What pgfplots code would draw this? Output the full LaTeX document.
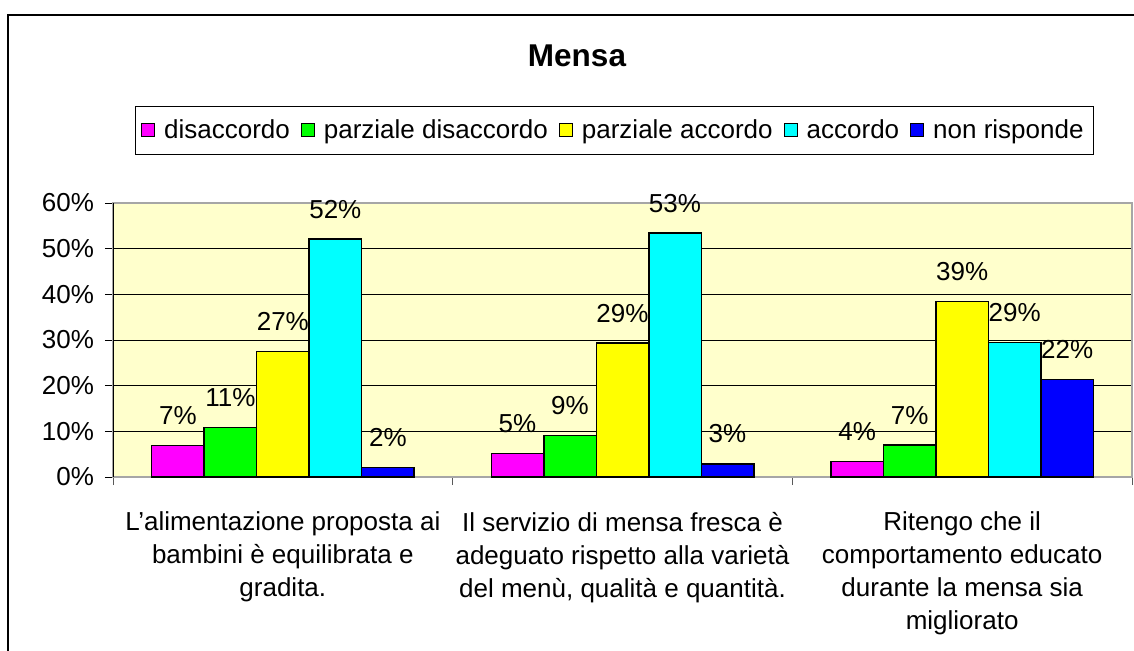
\documentclass[border=0pt]{standalone}
\usepackage{pgfplots}
\pgfplotsset{compat=1.18}
\usepackage{fontspec}
\setmainfont{Liberation Sans}
\definecolor{mag}{HTML}{FF00FF}
\definecolor{grn}{HTML}{00FF00}
\definecolor{yel}{HTML}{FFFF00}
\definecolor{cya}{HTML}{00FFFF}
\definecolor{blu}{HTML}{0000FF}
\definecolor{chartbg}{HTML}{FFFFCC}
\newcommand{\chartfont}{\fontsize{13}{16.5}\selectfont}

\begin{document}
\begin{tikzpicture}
\useasboundingbox (0,0) rectangle (567pt,325pt);
\fill[white] (0,0) rectangle (567pt,325pt);
% outer frame (left and top edges visible)
\draw[black, line width=1pt] (4pt,-5pt) -- (4pt,317.5pt) -- (580pt,317.5pt);
\node[font=\fontsize{15.75}{19}\selectfont\bfseries] at (288.5pt,297pt) {Mensa};
\begin{axis}[
  at={(56.5pt,86.5pt)}, anchor=south west,
  width=509.5pt, height=137pt, scale only axis,
  ybar=0pt, bar width=26.25pt,
  xmin=-0.5, xmax=2.5, ymin=0, ymax=60,
  xtick={0,1,2},
  xticklabels={{L’alimentazione proposta ai\\bambini è equilibrata e\\gradita.},
               {Il servizio di mensa fresca è\\adeguato rispetto alla varietà\\del menù, qualità e quantità.},
               {Ritengo che il\\comportamento educato\\durante la mensa sia\\migliorato}},
  minor xtick={-0.5,0.5,1.5,2.5},
  ytick={0,10,20,30,40,50,60},
  yticklabels={0\%,10\%,20\%,30\%,40\%,50\%,60\%},
  tick pos=left,
  tick align=outside, major tick length=4pt, minor tick length=4pt,
  major x tick style={draw=none},
  minor x tick style={gray!70!black, line width=0.5pt},
  y tick style={black, line width=0.5pt},
  xticklabel style={font=\chartfont, align=center, yshift=-10pt},
  yticklabel style={font=\chartfont, xshift=-2pt},
  ymajorgrids, grid style={black, line width=0.5pt},
  axis line style={gray!70, line width=0.75pt},
  axis background/.style={fill=chartbg},
  point meta=explicit symbolic,
  nodes near coords={\pgfplotspointmeta\%},
  every node near coord/.append style={anchor=south, inner sep=0pt, yshift=10pt, font=\chartfont, black},
  legend columns=5,
  legend style={at={(0.492,1.266)}, anchor=center, draw=black, line width=0.5pt,
    font=\chartfont, inner xsep=3pt, inner ysep=4.5pt,
    /tikz/every odd column/.append style={column sep=2.5pt},
    /tikz/every even column/.append style={column sep=3.5pt}},
  legend image code/.code={\draw[#1, draw=black, line width=0.5pt] (0pt,-3.25pt) rectangle (6.5pt,3.25pt);},
]
\addplot[fill=mag, draw=black, line width=0.75pt] coordinates {(0,6.9) [7] (1,5.1) [5] (2,3.35) [4]};
\addlegendentry{disaccordo}
\addplot[fill=grn, draw=black, line width=0.75pt] coordinates {(0,10.8) [11] (1,9.1) [9] (2,7.0) [7]};
\addlegendentry{parziale disaccordo}
\addplot[fill=yel, draw=black, line width=0.75pt] coordinates {(0,27.5) [27] (1,29.3) [29] (2,38.4) [39]};
\addlegendentry{parziale accordo}
\addplot[fill=cya, draw=black, line width=0.75pt] coordinates {(0,52.1) [52] (1,53.4) [53] (2,29.4) [29]};
\addlegendentry{accordo}
\addplot[fill=blu, draw=black, line width=0.75pt] coordinates {(0,2.1) [2] (1,2.9) [3] (2,21.4) [22]};
\addlegendentry{non risponde}
\draw[black, line width=0.75pt] (rel axis cs:0,1) -- (rel axis cs:0,0);
\end{axis}
\end{tikzpicture}
\end{document}
